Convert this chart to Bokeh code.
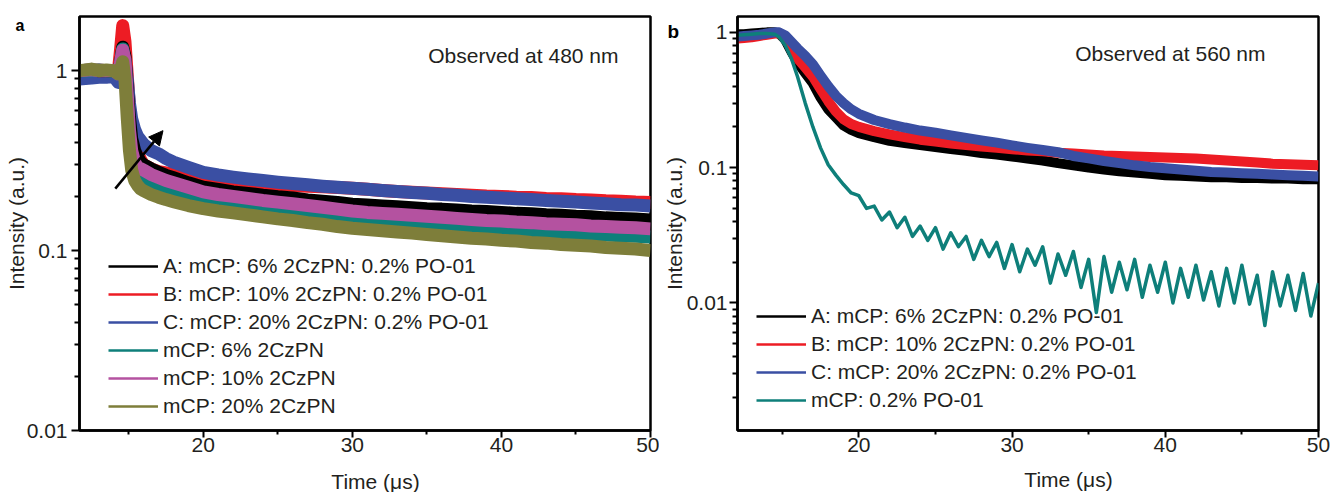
from bokeh.plotting import figure
from bokeh.layouts import row
from bokeh.models import (FixedTicker, CustomJSTickFormatter, Legend, LegendItem,
                          Label, Arrow, NormalHead, Range1d)
from bokeh.embed import file_html
from bokeh.resources import INLINE

FONT = "Liberation Sans"
TXT = "#231F20"
FS = "21px"

# ---------------- panel a : observed at 480 nm ----------------
t_a = [11.7, 12.5, 13, 13.5, 14, 14.3, 14.45, 14.6, 14.75, 14.9, 15.05, 15.2, 15.4, 15.6, 15.8,
       16, 16.5, 17, 17.5, 18, 19,
       20, 21, 22, 23, 24, 25, 26, 27, 28, 29, 30, 31, 32, 33, 34, 35, 36, 37, 38, 39,
       40, 41, 42, 43, 44, 45, 46, 47, 48, 49, 50]

a_A = [1.0, 1.01, 1.0, 1.0, 0.99, 0.97, 1.1, 1.35, 1.2, 0.8, 0.55, 0.42, 0.36, 0.33, 0.31,
       0.30, 0.285, 0.272, 0.262, 0.254, 0.238,
       0.225, 0.219, 0.212, 0.208, 0.203, 0.199, 0.196, 0.191, 0.188, 0.185,
       0.181, 0.179, 0.177, 0.175, 0.173, 0.171, 0.170, 0.168, 0.166, 0.165,
       0.163, 0.161, 0.160, 0.158, 0.157, 0.155, 0.154, 0.152, 0.151, 0.150, 0.148]
a_B = [0.99, 1.0, 1.01, 1.0, 1.0, 0.98, 1.3, 1.78, 1.45, 0.95, 0.62, 0.46, 0.39, 0.35, 0.32,
       0.30, 0.285, 0.275, 0.27, 0.265, 0.258,
       0.250, 0.246, 0.242, 0.239, 0.236, 0.233, 0.230, 0.228, 0.226, 0.224,
       0.222, 0.219, 0.216, 0.213, 0.211, 0.209, 0.207, 0.205, 0.203, 0.201,
       0.200, 0.198, 0.197, 0.195, 0.194, 0.192, 0.191, 0.189, 0.188, 0.186, 0.185]
a_C = [0.9, 0.91, 0.92, 0.92, 0.93, 0.86, 1.0, 1.25, 1.15, 0.9, 0.66, 0.54, 0.47, 0.43, 0.41,
       0.39, 0.36, 0.345, 0.325, 0.31, 0.29,
       0.272, 0.263, 0.256, 0.250, 0.245, 0.240, 0.236, 0.232, 0.228, 0.225,
       0.222, 0.219, 0.216, 0.213, 0.210, 0.208, 0.205, 0.203, 0.200, 0.198,
       0.196, 0.194, 0.192, 0.190, 0.188, 0.186, 0.184, 0.182, 0.180, 0.179, 0.177]
a_6 = [1.0, 1.0, 1.01, 1.0, 0.99, 0.97, 1.1, 1.32, 1.1, 0.7, 0.42, 0.31, 0.27, 0.255, 0.245,
       0.24, 0.23, 0.22, 0.212, 0.205, 0.195,
       0.185, 0.180, 0.175, 0.170, 0.166, 0.162, 0.158, 0.155, 0.152, 0.149,
       0.146, 0.144, 0.142, 0.140, 0.138, 0.136, 0.135, 0.133, 0.132, 0.130,
       0.129, 0.128, 0.127, 0.126, 0.125, 0.124, 0.123, 0.122, 0.121, 0.120, 0.119]
a_10 = [1.0, 1.01, 1.0, 1.0, 1.0, 0.96, 1.1, 1.3, 1.15, 0.75, 0.47, 0.36, 0.31, 0.29, 0.285,
        0.28, 0.265, 0.255, 0.245, 0.238, 0.225,
        0.212, 0.205, 0.200, 0.195, 0.190, 0.186, 0.182, 0.178, 0.174, 0.170,
        0.166, 0.163, 0.161, 0.159, 0.157, 0.155, 0.153, 0.151, 0.149, 0.147,
        0.146, 0.144, 0.143, 0.141, 0.140, 0.139, 0.137, 0.136, 0.135, 0.134, 0.132]
a_20 = [1.0, 1.02, 1.0, 1.01, 1.0, 0.96, 1.0, 1.12, 0.9, 0.55, 0.36, 0.28, 0.245, 0.23, 0.22,
        0.215, 0.205, 0.198, 0.192, 0.187, 0.178,
        0.171, 0.166, 0.162, 0.158, 0.154, 0.150, 0.147, 0.143, 0.140, 0.136,
        0.133, 0.131, 0.129, 0.127, 0.125, 0.123, 0.121, 0.119, 0.117, 0.116,
        0.114, 0.113, 0.111, 0.110, 0.108, 0.107, 0.106, 0.104, 0.103, 0.102, 0.100]

labels_a = ["A: mCP: 6% 2CzPN: 0.2% PO-01", "B: mCP: 10% 2CzPN: 0.2% PO-01",
            "C: mCP: 20% 2CzPN: 0.2% PO-01", "mCP: 6% 2CzPN", "mCP: 10% 2CzPN",
            "mCP: 20% 2CzPN"]
colors_a = ["#000000", "#ED1C24", "#3A4FA3", "#0E7F7A", "#B452A0", "#7E7E3A"]

# ---------------- panel b : observed at 560 nm ----------------
t_b = [12.08, 12.5, 13, 13.5, 14, 14.5, 14.8, 15.2, 15.6, 16, 16.5, 17, 17.5, 18, 18.5, 19, 19.5,
       20, 21, 22, 23, 24, 25, 26, 27, 28, 29, 30, 31, 32, 33, 34, 35, 36, 37, 38, 39,
       40, 41, 42, 43, 44, 45, 46, 47, 48, 49, 50]
b_A = [0.97, 0.97, 0.98, 0.99, 1.0, 1.0, 0.98, 0.88, 0.72, 0.6, 0.5, 0.42, 0.33, 0.27, 0.235, 0.205, 0.19,
       0.180, 0.168, 0.158, 0.152, 0.147, 0.142, 0.137, 0.133, 0.128, 0.125,
       0.121, 0.117, 0.113, 0.108, 0.104, 0.100, 0.097, 0.094, 0.092, 0.090,
       0.088, 0.087, 0.086, 0.085, 0.085, 0.084, 0.084, 0.083, 0.083, 0.082, 0.082]
b_B = [0.9, 0.91, 0.92, 0.94, 0.96, 0.98, 0.99, 0.9, 0.76, 0.64, 0.55, 0.47, 0.38, 0.31, 0.26, 0.228, 0.21,
       0.200, 0.186, 0.176, 0.168, 0.161, 0.156, 0.151, 0.147, 0.143, 0.140,
       0.137, 0.134, 0.132, 0.129, 0.127, 0.125, 0.123, 0.122, 0.121, 0.120,
       0.119, 0.118, 0.117, 0.115, 0.113, 0.111, 0.109, 0.107, 0.106, 0.105, 0.104]
b_C = [0.93, 0.94, 0.95, 0.96, 0.98, 1.0, 1.0, 0.95, 0.85, 0.76, 0.67, 0.58, 0.48, 0.4, 0.34, 0.3, 0.27,
       0.250, 0.225, 0.210, 0.198, 0.188, 0.181, 0.173, 0.166, 0.159, 0.153,
       0.146, 0.140, 0.135, 0.130, 0.122, 0.117, 0.112, 0.108, 0.104, 0.101,
       0.099, 0.097, 0.095, 0.093, 0.092, 0.091, 0.090, 0.089, 0.088, 0.087, 0.086]
t_b_po = [12.08, 12.5, 13, 13.5, 14, 14.5, 14.8, 15.2, 15.6, 16, 16.5, 17, 17.5, 18, 18.5, 19, 19.5,
          20, 20.5, 21, 21.5, 22, 22.5, 23, 23.5, 24, 24.5,
          25, 25.5, 26, 26.5, 27, 27.5, 28, 28.5, 29, 29.5,
          30, 30.5, 31, 31.5, 32, 32.5, 33, 33.5, 34, 34.5,
          35, 35.5, 36, 36.5, 37, 37.5, 38, 38.5, 39, 39.5,
          40, 40.5, 41, 41.5, 42, 42.5, 43, 43.5, 44, 44.5,
          45, 45.5, 46, 46.5, 47, 47.5, 48, 48.5, 49, 49.5, 50]
b_PO = [0.95, 0.96, 0.97, 0.98, 0.98, 0.97, 0.92, 0.8, 0.64, 0.47, 0.3, 0.2, 0.14, 0.105, 0.088, 0.075, 0.065,
        0.062, 0.050, 0.052, 0.041, 0.047, 0.036, 0.043, 0.031, 0.037, 0.029,
        0.036, 0.025, 0.033, 0.026, 0.031, 0.021, 0.029, 0.022, 0.028, 0.018,
        0.027, 0.017, 0.025, 0.019, 0.026, 0.014, 0.023, 0.016, 0.024, 0.013,
        0.021, 0.0085, 0.022, 0.012, 0.020, 0.0125, 0.021, 0.011, 0.019, 0.012,
        0.020, 0.010, 0.018, 0.011, 0.019, 0.0105, 0.017, 0.0095, 0.018, 0.010,
        0.019, 0.0098, 0.016, 0.0068, 0.017, 0.0095, 0.016, 0.0088, 0.0165, 0.0080,
        0.014]

labels_b = ["A: mCP: 6% 2CzPN: 0.2% PO-01", "B: mCP: 10% 2CzPN: 0.2% PO-01",
            "C: mCP: 20% 2CzPN: 0.2% PO-01", "mCP: 0.2% PO-01"]
colors_b = ["#000000", "#ED1C24", "#3A4FA3", "#0E7F7A"]

# arrow in panel a (data units)
arrow_start = (14.1, 0.221)
arrow_end = (17.3, 0.464)


def style(p, yticks, yminor, ylab_standoff, ylabel_gap):
    p.grid.visible = False
    p.outline_line_color = "black"
    p.outline_line_width = 2.5
    p.background_fill_color = "white"
    p.border_fill_color = "white"
    p.xaxis.ticker = FixedTicker(ticks=[20, 30, 40, 50], minor_ticks=[15, 25, 35, 45])
    p.yaxis.ticker = FixedTicker(ticks=yticks, minor_ticks=yminor)
    p.yaxis.formatter = CustomJSTickFormatter(code="return tick.toString()")
    for ax in (p.xaxis[0], p.yaxis[0]):
        ax.axis_line_width = 2.5
        ax.axis_line_color = "black"
        ax.major_tick_line_width = 2
        ax.minor_tick_line_width = 2
        ax.major_tick_in = 0
        ax.minor_tick_in = 0
        ax.major_label_text_font = FONT
        ax.major_label_text_font_size = FS
        ax.major_label_text_color = TXT
        ax.axis_label_text_font = FONT
        ax.axis_label_text_font_size = FS
        ax.axis_label_text_font_style = "normal"
        ax.axis_label_text_color = TXT
    p.xaxis.major_tick_out = 7
    p.xaxis.minor_tick_out = 4
    p.yaxis.major_tick_out = 8
    p.yaxis.minor_tick_out = 5
    p.xaxis.major_label_standoff = 0
    p.yaxis.major_label_standoff = ylabel_gap
    p.yaxis.axis_label = "Intensity (a.u.)"
    p.yaxis.axis_label_standoff = ylab_standoff


def lbl(p, x, y, text, place=None, **kw):
    opts = dict(x=x, y=y, x_units="screen", y_units="screen", text=text,
                text_font=FONT, text_font_size=FS, text_color=TXT)
    opts.update(kw)
    if place:
        p.add_layout(Label(**opts), place)
    else:
        p.add_layout(Label(**opts))


def legend(p, items, loc):
    lg = Legend(items=items, location=loc, label_text_font=FONT, label_text_font_size=FS,
                label_text_color=TXT, glyph_width=50, glyph_height=20, label_height=20,
                spacing=4, padding=0, margin=0, label_standoff=5,
                border_line_alpha=0, background_fill_alpha=0)
    p.add_layout(lg)


# ----- figure a -----
pa = figure(width=659, height=492, y_axis_type="log", x_range=Range1d(11.7, 50),
            y_range=Range1d(0.01, 2.0), toolbar_location=None, output_backend="svg",
            min_border_left=79, min_border_right=9, min_border_top=16, min_border_bottom=62)
minor_a = [0.02, 0.03, 0.04, 0.05, 0.06, 0.07, 0.08, 0.09, 0.2, 0.3, 0.4, 0.5, 0.6, 0.7, 0.8, 0.9]
style(pa, [0.01, 0.1, 1], minor_a, -4, 4)

series_a = [a_A, a_B, a_C, a_6, a_10, a_20]
order_a = [1, 2, 0, 3, 4, 5]
for i in order_a:
    pa.line(t_a, series_a[i], line_color=colors_a[i], line_width=13, line_join="round")
items_a = []
for i, (lab, c) in enumerate(zip(labels_a, colors_a)):
    proxy = pa.line(t_a[:1], series_a[i][:1], line_color=c, line_width=2.5)
    items_a.append(LegendItem(label=lab, renderers=[proxy]))
legend(pa, items_a, (29, 12))

pa.add_layout(Arrow(end=NormalHead(size=14, fill_color="black", line_color="black"),
                    x_start=arrow_start[0], y_start=arrow_start[1],
                    x_end=arrow_end[0], y_end=arrow_end[1],
                    line_width=2.5, line_color="black"))
lbl(pa, 539, 375, "Observed at 480 nm", text_align="right", text_baseline="middle")
lbl(pa, 296, -4, "Time (μs)", place="below", text_align="center", text_baseline="middle")
lbl(pa, 15 - 650, 430 - 25, "a", place="right", text_font_style="bold", text_font_size="16px",
    text_baseline="alphabetic", text_color="#000000")

# ----- figure b -----
pb = figure(width=671, height=492, y_axis_type="log", x_range=Range1d(12.08, 50),
            y_range=Range1d(0.00114, 1.31), toolbar_location=None, output_backend="svg",
            min_border_left=75, min_border_right=12, min_border_top=16, min_border_bottom=60)
minor_b = [0.002, 0.003, 0.004, 0.005, 0.006, 0.007, 0.008, 0.009,
           0.02, 0.03, 0.04, 0.05, 0.06, 0.07, 0.08, 0.09,
           0.2, 0.3, 0.4, 0.5, 0.6, 0.7, 0.8, 0.9]
style(pb, [0.01, 0.1, 1], minor_b, -2, 2)

series_b = [b_A, b_B, b_C]
for ys, c in zip(series_b, colors_b[:3]):
    pb.line(t_b, ys, line_color=c, line_width=10, line_join="round")
pb.line(t_b_po, b_PO, line_color=colors_b[3], line_width=3.5, line_join="round")
items_b = []
for i, (lab, c) in enumerate(zip(labels_b, colors_b)):
    src_y = (series_b + [b_PO])[i]
    proxy = pb.line(t_b[:1], src_y[:1], line_color=c, line_width=2.5)
    items_b.append(LegendItem(label=lab, renderers=[proxy]))
legend(pb, items_b, (19, 18))

lbl(pb, 528, 377, "Observed at 560 nm", text_align="right", text_baseline="middle")
lbl(pb, 331, -2, "Time (μs)", place="below", text_align="center", text_baseline="middle")
lbl(pb, 667 - 1318, 432 - 33, "b", place="right", text_font_style="bold", text_font_size="19px",
    text_baseline="alphabetic", text_color="#000000")

layout = row(pa, pb)
open("out.html", "w").write(file_html(layout, INLINE))
